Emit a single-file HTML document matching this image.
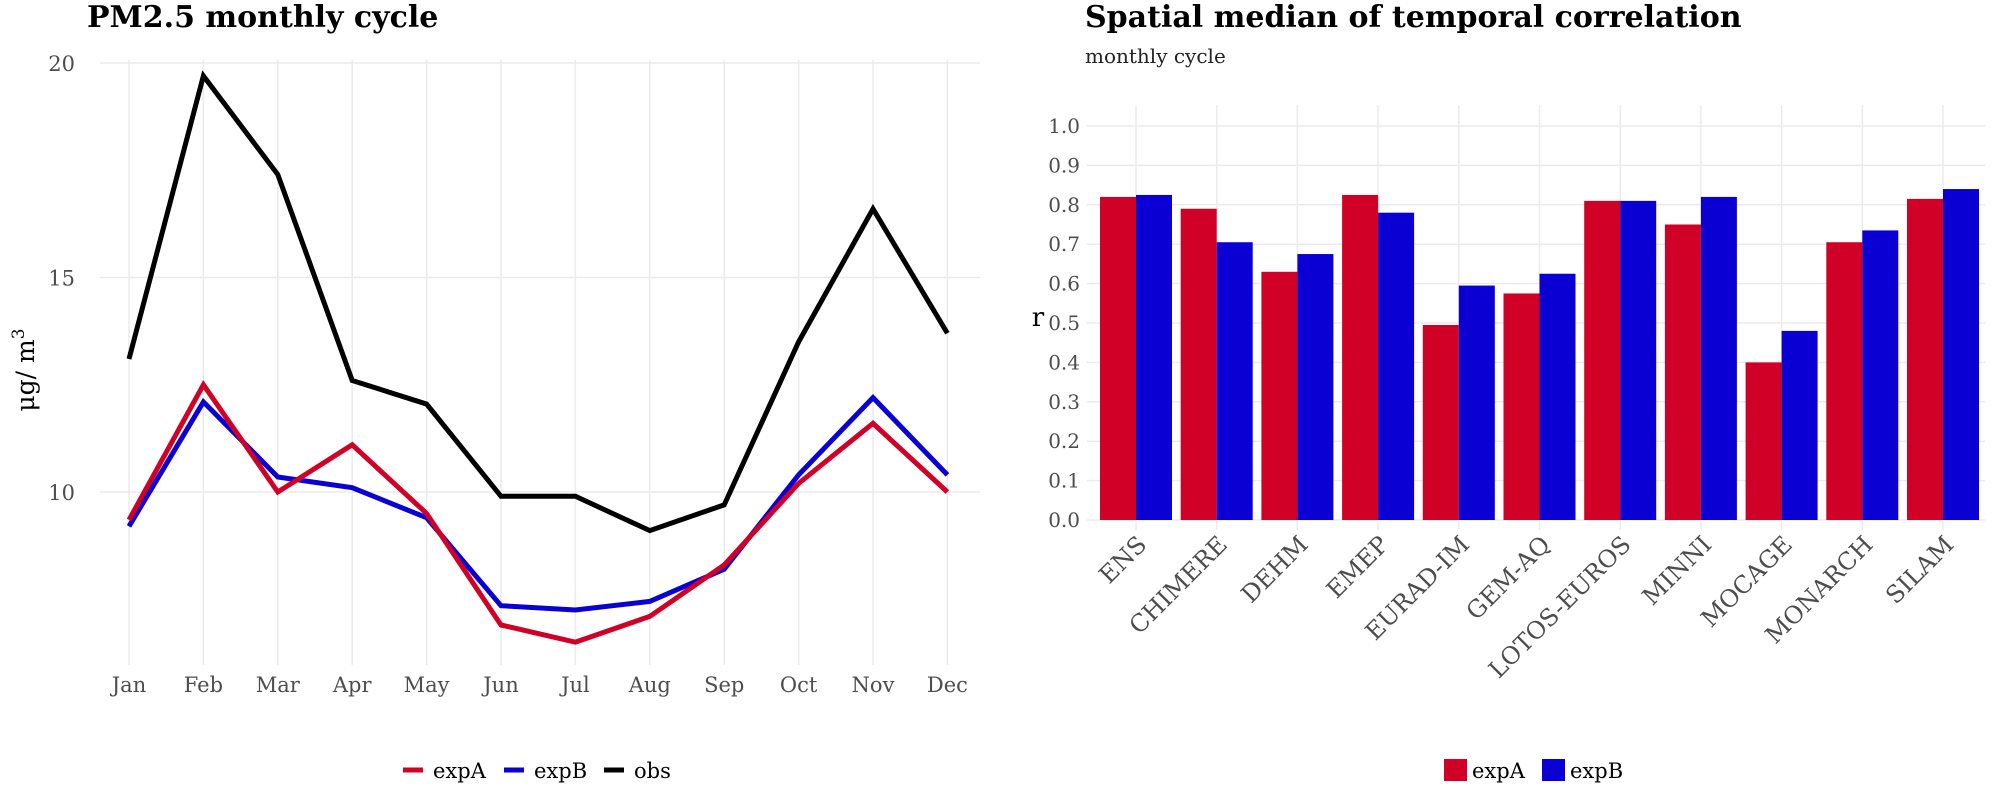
<!DOCTYPE html>
<html><head><meta charset="utf-8"><style>
html,body{margin:0;padding:0;background:#fff;}
svg{display:block;font-family:"DejaVu Serif","Liberation Serif",serif;}
</style></head><body>
<svg id="root" width="1995" height="787" viewBox="0 0 1995 787" xmlns="http://www.w3.org/2000/svg">
<g id="left"></g>
<g id="right"></g>
</svg>
<script>
const months = ["Jan","Feb","Mar","Apr","May","Jun","Jul","Aug","Sep","Oct","Nov","Dec"];
const obsVals = [13.1,19.7,17.4,12.6,12.05,9.9,9.9,9.1,9.7,13.5,16.6,13.7];
const expAVals = [9.35,12.5,10.0,11.1,9.5,6.9,6.5,7.1,8.3,10.2,11.6,10.0];
const expBVals = [9.2,12.1,10.35,10.1,9.4,7.35,7.25,7.45,8.2,10.4,12.2,10.4];
const leftTicks = [10,15,20];

const models = ["ENS","CHIMERE","DEHM","EMEP","EURAD-IM","GEM-AQ","LOTOS-EUROS","MINNI","MOCAGE","MONARCH","SILAM"];
const corrA = [0.82,0.79,0.63,0.825,0.495,0.575,0.81,0.75,0.40,0.705,0.815];
const corrB = [0.825,0.705,0.675,0.78,0.595,0.625,0.81,0.82,0.48,0.735,0.84];
const rightTicks = [0,0.1,0.2,0.3,0.4,0.5,0.6,0.7,0.8,0.9,1.0];

const NS="http://www.w3.org/2000/svg";
function mk(parent,tag,attrs,text){const e=document.createElementNS(NS,tag);for(const k in attrs)e.setAttribute(k,attrs[k]);if(text!==undefined)e.textContent=text;parent.appendChild(e);return e;}
const RED="#d10026",BLUE="#0a00d4",GRID="#ebebeb",TXT="#4d4d4d";

// ---- Left chart ----
const L=document.getElementById('left');
const lx=i=>129+i*74.4;
const ly=v=>492-(v-10)*42.9;
let t=mk(L,'text',{x:87,y:27,'font-size':30,'font-weight':'bold',fill:'#000'},'PM2.5 monthly cycle');

months.forEach((m,i)=>{const g=mk(L,'line',{x1:lx(i),x2:lx(i),y1:60,y2:665,stroke:GRID,'stroke-width':1.5});
 const tl=mk(L,'text',{x:lx(i),y:692,'font-size':21,fill:TXT,'text-anchor':'middle'},m);});
leftTicks.forEach(v=>{const g=mk(L,'line',{x1:100,x2:980,y1:ly(v),y2:ly(v),stroke:GRID,'stroke-width':1.5});
 const tl=mk(L,'text',{x:75,y:ly(v)+8,'font-size':21,fill:TXT,'text-anchor':'end'},String(v));});
t=mk(L,'text',{transform:'translate(34,370) rotate(-90)','font-size':25,fill:'#000','text-anchor':'middle'});
t.innerHTML='μg/ m<tspan dy="-10" font-size="17">3</tspan>';

[[obsVals,'#000','obs-line'],[expBVals,BLUE,'expb-line'],[expAVals,RED,'expa-line']].forEach(([vals,c,n])=>{
 const p=mk(L,'polyline',{points:vals.map((v,i)=>lx(i)+','+ly(v)).join(' '),fill:'none',stroke:c,'stroke-width':5,'stroke-linejoin':'miter'});
 });
// left legend
[[403,RED,'expA','legend-expa'],[504,BLUE,'expB','legend-expb'],[604,'#000','obs','legend-obs']].forEach(([x,c,lab,n])=>{
 const g=mk(L,'g',{});
 mk(g,'line',{x1:x,x2:x+20,y1:770,y2:770,stroke:c,'stroke-width':5});
 mk(g,'text',{x:x+30,y:778,'font-size':21,fill:'#000'},lab);});

// ---- Right chart ----
const R=document.getElementById('right');
const rx=i=>1136+i*80.7;
const ry=v=>520-v*394;
t=mk(R,'text',{x:1085,y:27,'font-size':30,'font-weight':'bold',fill:'#000'},'Spatial median of temporal correlation');

t=mk(R,'text',{x:1085,y:63,'font-size':20,fill:'#222'},'monthly cycle');

rightTicks.forEach(v=>{const g=mk(R,'line',{x1:1087,x2:1985,y1:ry(v),y2:ry(v),stroke:GRID,'stroke-width':1.5});
 const tl=mk(R,'text',{x:1080,y:ry(v)+7,'font-size':20,fill:TXT,'text-anchor':'end'},v.toFixed(1));});
models.forEach((m,i)=>{const g=mk(R,'line',{x1:rx(i),x2:rx(i),y1:105,y2:530,stroke:GRID,'stroke-width':1.5});});
t=mk(R,'text',{x:1038,y:326,'font-size':26,fill:'#000','text-anchor':'middle'},'r');

const bw=36;
models.forEach((m,i)=>{
 const a=mk(R,'rect',{x:rx(i)-bw,y:ry(corrA[i]),width:bw,height:ry(0)-ry(corrA[i]),fill:RED});
 
 const b=mk(R,'rect',{x:rx(i),y:ry(corrB[i]),width:bw,height:ry(0)-ry(corrB[i]),fill:BLUE});
 
 const tl=mk(R,'text',{transform:'translate('+(rx(i)+12)+',546) rotate(-45)','font-size':24,fill:TXT,'text-anchor':'end'},m);
 
});
[[1444,RED,'expA','legend-expa'],[1542,BLUE,'expB','legend-expb']].forEach(([x,c,lab,n])=>{
 const g=mk(R,'g',{});
 mk(g,'rect',{x:x,y:759,width:23,height:22,fill:c});
 mk(g,'text',{x:x+28,y:778,'font-size':21,fill:'#000'},lab);});
</script>
</body></html>
